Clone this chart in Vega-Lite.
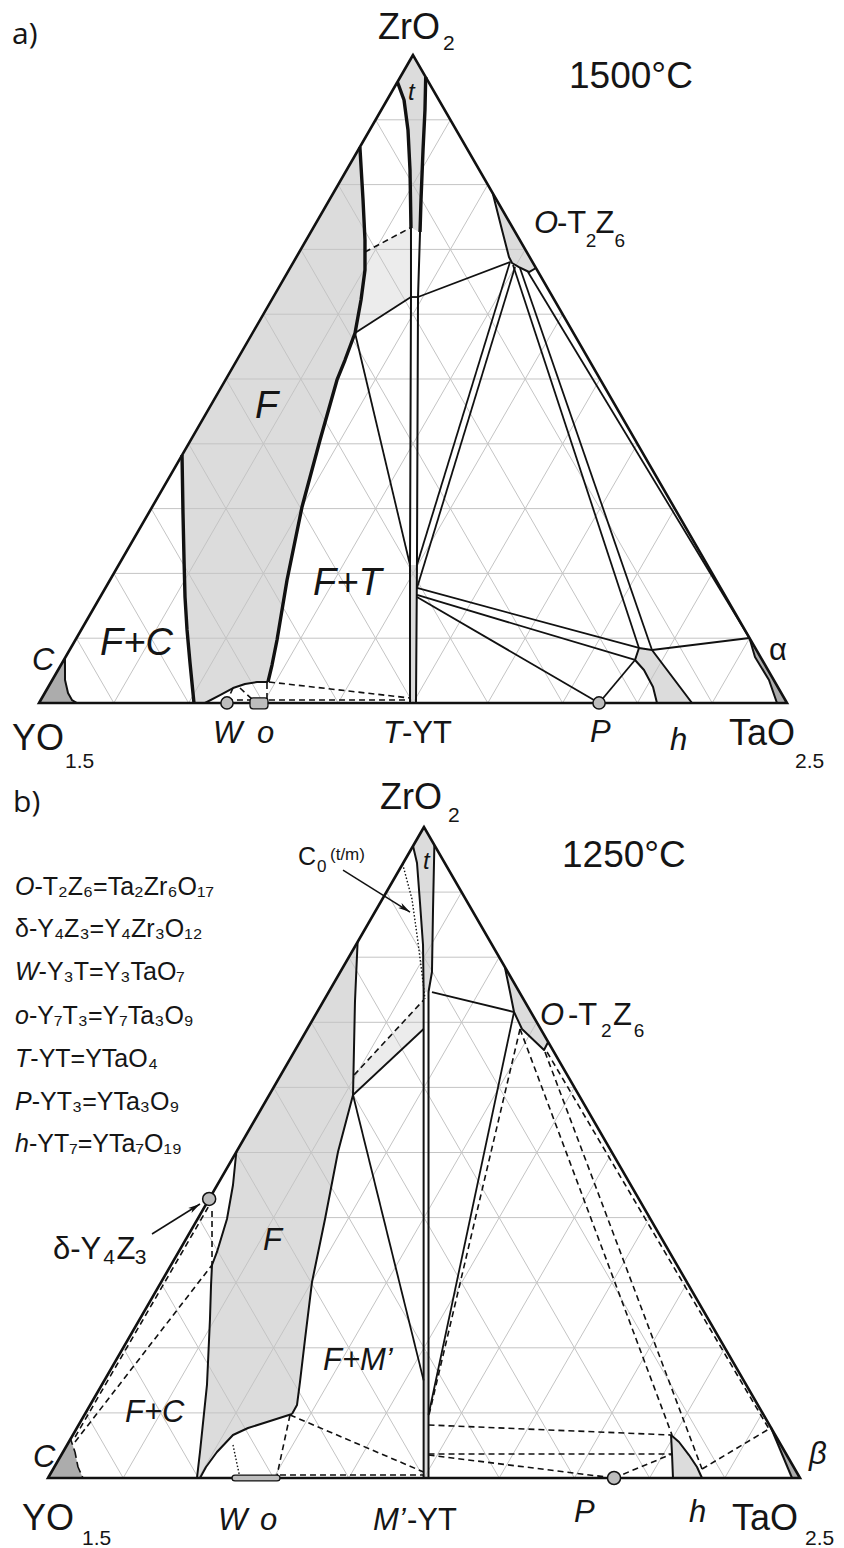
{
  "$schema": "https://vega.github.io/schema/vega-lite/v6.json",
  "padding": 0,
  "spacing": 0,
  "background": "white",
  "config": {"view": {"stroke": null}, "text": {"font": "Liberation Sans"}},
  "datasets": {
    "grid": [
      {"u":5,"z":10,"u2":95,"z2":10},{"u":10,"z":20,"u2":90,"z2":20},{"u":15,"z":30,"u2":85,"z2":30},
      {"u":20,"z":40,"u2":80,"z2":40},{"u":25,"z":50,"u2":75,"z2":50},{"u":30,"z":60,"u2":70,"z2":60},
      {"u":35,"z":70,"u2":65,"z2":70},{"u":40,"z":80,"u2":60,"z2":80},{"u":45,"z":90,"u2":55,"z2":90},
      {"u":10,"z":0,"u2":55,"z2":90},{"u":20,"z":0,"u2":60,"z2":80},{"u":30,"z":0,"u2":65,"z2":70},
      {"u":40,"z":0,"u2":70,"z2":60},{"u":50,"z":0,"u2":75,"z2":50},{"u":60,"z":0,"u2":80,"z2":40},
      {"u":70,"z":0,"u2":85,"z2":30},{"u":80,"z":0,"u2":90,"z2":20},{"u":90,"z":0,"u2":95,"z2":10},
      {"u":10,"z":0,"u2":5,"z2":10},{"u":20,"z":0,"u2":10,"z2":20},{"u":30,"z":0,"u2":15,"z2":30},
      {"u":40,"z":0,"u2":20,"z2":40},{"u":50,"z":0,"u2":25,"z2":50},{"u":60,"z":0,"u2":30,"z2":60},
      {"u":70,"z":0,"u2":35,"z2":70},{"u":80,"z":0,"u2":40,"z2":80},{"u":90,"z":0,"u2":45,"z2":90}
    ],
    "outline": [
      {"u":0,"z":0},{"u":50,"z":100},{"u":100,"z":0},{"u":0,"z":0},{"u":50,"z":100}
    ],
    "regions": [
      {"panel":"a","region":"F","kind":"solid solution","u":42.90,"z":85.80},
      {"panel":"a","region":"F","kind":"solid solution","u":43.32,"z":77.62},
      {"panel":"a","region":"F","kind":"solid solution","u":43.58,"z":71.45},
      {"panel":"a","region":"F","kind":"solid solution","u":43.58,"z":66.82},
      {"panel":"a","region":"F","kind":"solid solution","u":43.05,"z":62.19},
      {"panel":"a","region":"F","kind":"solid solution","u":42.25,"z":57.10},
      {"panel":"a","region":"F","kind":"solid solution","u":40.91,"z":52.93},
      {"panel":"a","region":"F","kind":"solid solution","u":39.84,"z":49.85},
      {"panel":"a","region":"F","kind":"solid solution","u":37.57,"z":40.59},
      {"panel":"a","region":"F","kind":"solid solution","u":35.16,"z":30.25},
      {"panel":"a","region":"F","kind":"solid solution","u":33.16,"z":18.98},
      {"panel":"a","region":"F","kind":"solid solution","u":31.82,"z":9.72},
      {"panel":"a","region":"F","kind":"solid solution","u":31.15,"z":5.86},
      {"panel":"a","region":"F","kind":"solid solution","u":30.61,"z":3.24},
      {"panel":"a","region":"F","kind":"solid solution","u":29.14,"z":3.24},
      {"panel":"a","region":"F","kind":"solid solution","u":27.54,"z":2.93},
      {"panel":"a","region":"F","kind":"solid solution","u":25.94,"z":2.31},
      {"panel":"a","region":"F","kind":"solid solution","u":24.20,"z":1.23},
      {"panel":"a","region":"F","kind":"solid solution","u":22.19,"z":0},
      {"panel":"a","region":"F","kind":"solid solution","u":20.72,"z":0},
      {"panel":"a","region":"F","kind":"solid solution","u":20.19,"z":6.17},
      {"panel":"a","region":"F","kind":"solid solution","u":19.79,"z":11.27},
      {"panel":"a","region":"F","kind":"solid solution","u":19.52,"z":16.36},
      {"panel":"a","region":"F","kind":"solid solution","u":19.39,"z":22.07},
      {"panel":"a","region":"F","kind":"solid solution","u":19.25,"z":29.32},
      {"panel":"a","region":"F","kind":"solid solution","u":19.12,"z":38.27},
      {"panel":"a","region":"t","kind":"solid solution","u":50,"z":100},
      {"panel":"a","region":"t","kind":"solid solution","u":51.70,"z":96.60},
      {"panel":"a","region":"t","kind":"solid solution","u":51.60,"z":91.51},
      {"panel":"a","region":"t","kind":"solid solution","u":51.34,"z":85.34},
      {"panel":"a","region":"t","kind":"solid solution","u":51.07,"z":77.62},
      {"panel":"a","region":"t","kind":"solid solution","u":50.94,"z":72.69},
      {"panel":"a","region":"t","kind":"solid solution","u":49.73,"z":73.30},
      {"panel":"a","region":"t","kind":"solid solution","u":49.60,"z":82.25},
      {"panel":"a","region":"t","kind":"solid solution","u":49.33,"z":88.43},
      {"panel":"a","region":"t","kind":"solid solution","u":48.80,"z":93.06},
      {"panel":"a","region":"t","kind":"solid solution","u":47.92,"z":95.83},
      {"panel":"a","region":"O","kind":"solid solution","u":60.65,"z":78.70},
      {"panel":"a","region":"O","kind":"solid solution","u":61.90,"z":72.99},
      {"panel":"a","region":"O","kind":"solid solution","u":62.83,"z":68.83},
      {"panel":"a","region":"O","kind":"solid solution","u":63.24,"z":67.90},
      {"panel":"a","region":"O","kind":"solid solution","u":64.17,"z":67.28},
      {"panel":"a","region":"O","kind":"solid solution","u":65.51,"z":66.51},
      {"panel":"a","region":"O","kind":"solid solution","u":66.44,"z":67.13},
      {"panel":"a","region":"T","kind":"solid solution","u":49.60,"z":0},
      {"panel":"a","region":"T","kind":"solid solution","u":49.60,"z":21.30},
      {"panel":"a","region":"T","kind":"solid solution","u":50.53,"z":21.30},
      {"panel":"a","region":"T","kind":"solid solution","u":50.40,"z":0},
      {"panel":"a","region":"h","kind":"solid solution","u":80.21,"z":8.49},
      {"panel":"a","region":"h","kind":"solid solution","u":81.95,"z":8.18},
      {"panel":"a","region":"h","kind":"solid solution","u":87.30,"z":0},
      {"panel":"a","region":"h","kind":"solid solution","u":82.62,"z":0},
      {"panel":"a","region":"h","kind":"solid solution","u":82.09,"z":2.47},
      {"panel":"a","region":"h","kind":"solid solution","u":80.88,"z":5.09},
      {"panel":"a","region":"h","kind":"solid solution","u":79.68,"z":6.64},
      {"panel":"a","region":"C","kind":"terminal","u":0,"z":0},
      {"panel":"a","region":"C","kind":"terminal","u":3.47,"z":6.94},
      {"panel":"a","region":"C","kind":"terminal","u":3.48,"z":3.55},
      {"panel":"a","region":"C","kind":"terminal","u":3.88,"z":1.54},
      {"panel":"a","region":"C","kind":"terminal","u":4.41,"z":0.46},
      {"panel":"a","region":"C","kind":"terminal","u":5.08,"z":0},
      {"panel":"a","region":"alpha","kind":"terminal","u":94.98,"z":10.03},
      {"panel":"a","region":"alpha","kind":"terminal","u":95.72,"z":7.10},
      {"panel":"a","region":"alpha","kind":"terminal","u":97.59,"z":3.55},
      {"panel":"a","region":"alpha","kind":"terminal","u":98.66,"z":0},
      {"panel":"a","region":"alpha","kind":"terminal","u":100,"z":0},
      {"panel":"a","region":"F+t","kind":"two-phase","u":43.58,"z":69.60},
      {"panel":"a","region":"F+t","kind":"two-phase","u":49.60,"z":73.30},
      {"panel":"a","region":"F+t","kind":"two-phase","u":49.73,"z":62.65},
      {"panel":"a","region":"F+t","kind":"two-phase","u":42.25,"z":57.10},
      {"panel":"a","region":"F+t","kind":"two-phase","u":43.05,"z":62.19},
      {"panel":"a","region":"F+t","kind":"two-phase","u":43.58,"z":66.82},

      {"panel":"b","region":"F","kind":"solid solution","u":41.17,"z":82.33},
      {"panel":"b","region":"F","kind":"solid solution","u":40.82,"z":73.12},
      {"panel":"b","region":"F","kind":"solid solution","u":40.56,"z":58.83},
      {"panel":"b","region":"F","kind":"solid solution","u":38.56,"z":50.08},
      {"panel":"b","region":"F","kind":"solid solution","u":36.84,"z":39.78},
      {"panel":"b","region":"F","kind":"solid solution","u":35.11,"z":30.11},
      {"panel":"b","region":"F","kind":"solid solution","u":34.18,"z":21.35},
      {"panel":"b","region":"F","kind":"solid solution","u":33.51,"z":14.75},
      {"panel":"b","region":"F","kind":"solid solution","u":33.11,"z":11.21},
      {"panel":"b","region":"F","kind":"solid solution","u":32.45,"z":9.83},
      {"panel":"b","region":"F","kind":"solid solution","u":29.12,"z":8.60},
      {"panel":"b","region":"F","kind":"solid solution","u":26.60,"z":7.68},
      {"panel":"b","region":"F","kind":"solid solution","u":24.60,"z":6.61},
      {"panel":"b","region":"F","kind":"solid solution","u":22.47,"z":3.99},
      {"panel":"b","region":"F","kind":"solid solution","u":21.01,"z":1.69},
      {"panel":"b","region":"F","kind":"solid solution","u":20.21,"z":0},
      {"panel":"b","region":"F","kind":"solid solution","u":19.81,"z":0},
      {"panel":"b","region":"F","kind":"solid solution","u":20.21,"z":3.99},
      {"panel":"b","region":"F","kind":"solid solution","u":21.14,"z":14.29},
      {"panel":"b","region":"F","kind":"solid solution","u":21.54,"z":24.42},
      {"panel":"b","region":"F","kind":"solid solution","u":21.68,"z":29.65},
      {"panel":"b","region":"F","kind":"solid solution","u":21.81,"z":32.72},
      {"panel":"b","region":"F","kind":"solid solution","u":22.47,"z":34.72},
      {"panel":"b","region":"F","kind":"solid solution","u":23.80,"z":39.78},
      {"panel":"b","region":"F","kind":"solid solution","u":24.60,"z":45.01},
      {"panel":"b","region":"F","kind":"solid solution","u":25.04,"z":50.08},
      {"panel":"b","region":"t","kind":"solid solution","u":50,"z":100},
      {"panel":"b","region":"t","kind":"solid solution","u":51.38,"z":97.24},
      {"panel":"b","region":"t","kind":"solid solution","u":51.20,"z":87.40},
      {"panel":"b","region":"t","kind":"solid solution","u":51.06,"z":77.72},
      {"panel":"b","region":"t","kind":"solid solution","u":50.60,"z":74.65},
      {"panel":"b","region":"t","kind":"solid solution","u":49.95,"z":74.65},
      {"panel":"b","region":"t","kind":"solid solution","u":49.87,"z":81.87},
      {"panel":"b","region":"t","kind":"solid solution","u":49.47,"z":88.33},
      {"panel":"b","region":"t","kind":"solid solution","u":49.07,"z":94.47},
      {"panel":"b","region":"t","kind":"solid solution","u":48.54,"z":97.08},
      {"panel":"b","region":"O","kind":"solid solution","u":60.75,"z":78.49},
      {"panel":"b","region":"O","kind":"solid solution","u":61.44,"z":74.65},
      {"panel":"b","region":"O","kind":"solid solution","u":61.97,"z":71.58},
      {"panel":"b","region":"O","kind":"solid solution","u":63.03,"z":68.97},
      {"panel":"b","region":"O","kind":"solid solution","u":65.96,"z":65.75},
      {"panel":"b","region":"O","kind":"solid solution","u":66.51,"z":66.97},
      {"panel":"b","region":"M","kind":"solid solution","u":49.95,"z":0},
      {"panel":"b","region":"M","kind":"solid solution","u":49.95,"z":19.35},
      {"panel":"b","region":"M","kind":"solid solution","u":50.60,"z":19.35},
      {"panel":"b","region":"M","kind":"solid solution","u":50.60,"z":0},
      {"panel":"b","region":"h","kind":"solid solution","u":82.85,"z":6.61},
      {"panel":"b","region":"h","kind":"solid solution","u":83.91,"z":5.53},
      {"panel":"b","region":"h","kind":"solid solution","u":85.24,"z":3.53},
      {"panel":"b","region":"h","kind":"solid solution","u":86.30,"z":1.69},
      {"panel":"b","region":"h","kind":"solid solution","u":86.97,"z":0},
      {"panel":"b","region":"h","kind":"solid solution","u":83.11,"z":0},
      {"panel":"b","region":"h","kind":"solid solution","u":82.98,"z":3.69},
      {"panel":"b","region":"C","kind":"terminal","u":0,"z":0},
      {"panel":"b","region":"C","kind":"terminal","u":3.0,"z":5.99},
      {"panel":"b","region":"C","kind":"terminal","u":3.59,"z":3.99},
      {"panel":"b","region":"C","kind":"terminal","u":3.99,"z":1.69},
      {"panel":"b","region":"C","kind":"terminal","u":4.65,"z":0},
      {"panel":"b","region":"beta","kind":"terminal","u":96.16,"z":7.68},
      {"panel":"b","region":"beta","kind":"terminal","u":98.94,"z":0},
      {"panel":"b","region":"beta","kind":"terminal","u":100,"z":0},
      {"panel":"b","region":"F+t","kind":"two-phase","u":40.56,"z":58.83},
      {"panel":"b","region":"F+t","kind":"two-phase","u":40.70,"z":61.90},
      {"panel":"b","region":"F+t","kind":"two-phase","u":49.95,"z":73.43},
      {"panel":"b","region":"F+t","kind":"two-phase","u":49.95,"z":68.97}
    ],
    "heavy": [
      {"panel":"a","id":"Fr","u":42.90,"z":85.80},{"panel":"a","id":"Fr","u":43.32,"z":77.62},
      {"panel":"a","id":"Fr","u":43.58,"z":71.45},{"panel":"a","id":"Fr","u":43.58,"z":66.82},
      {"panel":"a","id":"Fr","u":43.05,"z":62.19},{"panel":"a","id":"Fr","u":42.25,"z":57.10},
      {"panel":"a","id":"Fr","u":40.91,"z":52.93},{"panel":"a","id":"Fr","u":39.84,"z":49.85},
      {"panel":"a","id":"Fr","u":37.57,"z":40.59},{"panel":"a","id":"Fr","u":35.16,"z":30.25},
      {"panel":"a","id":"Fr","u":33.16,"z":18.98},{"panel":"a","id":"Fr","u":31.82,"z":9.72},
      {"panel":"a","id":"Fr","u":31.15,"z":5.86},{"panel":"a","id":"Fr","u":30.61,"z":3.24},
      {"panel":"a","id":"Fl","u":20.72,"z":0},{"panel":"a","id":"Fl","u":20.19,"z":6.17},
      {"panel":"a","id":"Fl","u":19.79,"z":11.27},{"panel":"a","id":"Fl","u":19.52,"z":16.36},
      {"panel":"a","id":"Fl","u":19.39,"z":22.07},{"panel":"a","id":"Fl","u":19.25,"z":29.32},
      {"panel":"a","id":"Fl","u":19.12,"z":38.27},
      {"panel":"a","id":"tl","u":47.92,"z":95.83},{"panel":"a","id":"tl","u":48.80,"z":93.06},
      {"panel":"a","id":"tl","u":49.33,"z":88.43},{"panel":"a","id":"tl","u":49.60,"z":82.25},
      {"panel":"a","id":"tl","u":49.73,"z":73.30},
      {"panel":"a","id":"tr","u":51.70,"z":96.60},{"panel":"a","id":"tr","u":51.60,"z":91.51},
      {"panel":"a","id":"tr","u":51.34,"z":85.34},{"panel":"a","id":"tr","u":51.07,"z":77.62},
      {"panel":"a","id":"tr","u":50.94,"z":72.69}
    ],
    "bounds": [
      {"panel":"a","id":"dome","u":30.61,"z":3.24},{"panel":"a","id":"dome","u":29.14,"z":3.24},
      {"panel":"a","id":"dome","u":27.54,"z":2.93},{"panel":"a","id":"dome","u":25.94,"z":2.31},
      {"panel":"a","id":"dome","u":24.20,"z":1.23},{"panel":"a","id":"dome","u":22.19,"z":0},
      {"panel":"a","id":"Cb","u":3.47,"z":6.94},{"panel":"a","id":"Cb","u":3.48,"z":3.55},
      {"panel":"a","id":"Cb","u":3.88,"z":1.54},{"panel":"a","id":"Cb","u":4.41,"z":0.46},
      {"panel":"a","id":"Cb","u":5.08,"z":0},
      {"panel":"a","id":"Ob","u":60.65,"z":78.70},{"panel":"a","id":"Ob","u":61.90,"z":72.99},
      {"panel":"a","id":"Ob","u":62.83,"z":68.83},{"panel":"a","id":"Ob","u":63.24,"z":67.90},
      {"panel":"a","id":"Ob","u":64.17,"z":67.28},{"panel":"a","id":"Ob","u":65.51,"z":66.51},
      {"panel":"a","id":"Ob","u":66.44,"z":67.13},
      {"panel":"a","id":"TL","u":49.73,"z":73.30},{"panel":"a","id":"TL","u":49.73,"z":62.65},
      {"panel":"a","id":"TL","u":49.60,"z":21.30},{"panel":"a","id":"TL","u":49.60,"z":0},
      {"panel":"a","id":"TR","u":50.94,"z":72.69},{"panel":"a","id":"TR","u":50.67,"z":62.65},
      {"panel":"a","id":"TR","u":50.53,"z":21.30},{"panel":"a","id":"TR","u":50.40,"z":0},
      {"panel":"a","id":"hb","u":79.68,"z":6.64},{"panel":"a","id":"hb","u":80.21,"z":8.49},
      {"panel":"a","id":"hb","u":81.95,"z":8.18},{"panel":"a","id":"hb","u":87.30,"z":0},
      {"panel":"a","id":"hl","u":82.62,"z":0},{"panel":"a","id":"hl","u":82.09,"z":2.47},
      {"panel":"a","id":"hl","u":80.88,"z":5.09},{"panel":"a","id":"hl","u":79.68,"z":6.64},
      {"panel":"a","id":"ab","u":94.98,"z":10.03},{"panel":"a","id":"ab","u":95.72,"z":7.10},
      {"panel":"a","id":"ab","u":97.59,"z":3.55},{"panel":"a","id":"ab","u":98.66,"z":0},

      {"panel":"b","id":"Fr","u":41.17,"z":82.33},{"panel":"b","id":"Fr","u":40.82,"z":73.12},
      {"panel":"b","id":"Fr","u":40.56,"z":58.83},{"panel":"b","id":"Fr","u":38.56,"z":50.08},
      {"panel":"b","id":"Fr","u":36.84,"z":39.78},{"panel":"b","id":"Fr","u":35.11,"z":30.11},
      {"panel":"b","id":"Fr","u":34.18,"z":21.35},{"panel":"b","id":"Fr","u":33.51,"z":14.75},
      {"panel":"b","id":"Fr","u":33.11,"z":11.21},{"panel":"b","id":"Fr","u":32.45,"z":9.83},
      {"panel":"b","id":"Fb","u":32.45,"z":9.83},{"panel":"b","id":"Fb","u":29.12,"z":8.60},
      {"panel":"b","id":"Fb","u":26.60,"z":7.68},{"panel":"b","id":"Fb","u":24.60,"z":6.61},
      {"panel":"b","id":"Fb","u":22.47,"z":3.99},{"panel":"b","id":"Fb","u":21.01,"z":1.69},
      {"panel":"b","id":"Fb","u":20.21,"z":0},
      {"panel":"b","id":"Fl","u":19.81,"z":0},{"panel":"b","id":"Fl","u":20.21,"z":3.99},
      {"panel":"b","id":"Fl","u":21.14,"z":14.29},{"panel":"b","id":"Fl","u":21.54,"z":24.42},
      {"panel":"b","id":"Fl","u":21.68,"z":29.65},{"panel":"b","id":"Fl","u":21.81,"z":32.72},
      {"panel":"b","id":"Fl","u":22.47,"z":34.72},{"panel":"b","id":"Fl","u":23.80,"z":39.78},
      {"panel":"b","id":"Fl","u":24.60,"z":45.01},{"panel":"b","id":"Fl","u":25.04,"z":50.08},
      {"panel":"b","id":"tl","u":48.54,"z":97.08},{"panel":"b","id":"tl","u":49.07,"z":94.47},
      {"panel":"b","id":"tl","u":49.47,"z":88.33},{"panel":"b","id":"tl","u":49.87,"z":81.87},
      {"panel":"b","id":"tl","u":49.95,"z":74.65},
      {"panel":"b","id":"tr","u":51.38,"z":97.24},{"panel":"b","id":"tr","u":51.20,"z":87.40},
      {"panel":"b","id":"tr","u":51.06,"z":77.72},{"panel":"b","id":"tr","u":50.60,"z":74.65},
      {"panel":"b","id":"ML","u":49.95,"z":74.65},{"panel":"b","id":"ML","u":49.95,"z":0},
      {"panel":"b","id":"MR","u":50.60,"z":74.65},{"panel":"b","id":"MR","u":50.60,"z":0},
      {"panel":"b","id":"Ob","u":60.75,"z":78.49},{"panel":"b","id":"Ob","u":61.44,"z":74.65},
      {"panel":"b","id":"Ob","u":61.97,"z":71.58},{"panel":"b","id":"Ob","u":63.03,"z":68.97},
      {"panel":"b","id":"Ob","u":65.96,"z":65.75},{"panel":"b","id":"Ob","u":66.51,"z":66.97},
      {"panel":"b","id":"hb","u":82.85,"z":6.61},{"panel":"b","id":"hb","u":83.91,"z":5.53},
      {"panel":"b","id":"hb","u":85.24,"z":3.53},{"panel":"b","id":"hb","u":86.30,"z":1.69},
      {"panel":"b","id":"hb","u":86.97,"z":0},
      {"panel":"b","id":"hl","u":83.11,"z":0},{"panel":"b","id":"hl","u":82.98,"z":3.69},
      {"panel":"b","id":"hl","u":82.85,"z":6.61},
      {"panel":"b","id":"bb","u":96.16,"z":7.68},{"panel":"b","id":"bb","u":98.94,"z":0}
    ],
    "ties": [
      {"panel":"a","u":42.25,"z":57.10,"u2":49.73,"z2":62.65},
      {"panel":"a","u":49.73,"z":62.65,"u2":50.67,"z2":62.65},
      {"panel":"a","u":50.67,"z":62.65,"u2":62.97,"z2":68.06},
      {"panel":"a","u":42.25,"z":57.10,"u2":49.60,"z2":21.30},
      {"panel":"a","u":62.97,"z":68.06,"u2":50.53,"z2":21.30},
      {"panel":"a","u":63.64,"z":67.28,"u2":50.53,"z2":17.75},
      {"panel":"a","u":50.53,"z":17.75,"u2":80.21,"z2":8.49},
      {"panel":"a","u":50.53,"z":16.67,"u2":79.68,"z2":6.64},
      {"panel":"a","u":50.53,"z":16.36,"u2":74.87,"z2":0},
      {"panel":"a","u":63.37,"z":67.59,"u2":80.21,"z2":8.49},
      {"panel":"a","u":64.30,"z":67.13,"u2":81.95,"z2":8.18},
      {"panel":"a","u":65.37,"z":66.51,"u2":94.98,"z2":10.03},
      {"panel":"a","u":81.95,"z":8.18,"u2":94.98,"z2":10.03},
      {"panel":"a","u":74.87,"z":0,"u2":79.68,"z2":6.64},
      {"panel":"b","u":40.56,"z":58.83,"u2":49.95,"z2":15.0},
      {"panel":"b","u":51.06,"z":74.65,"u2":61.97,"z2":71.58},
      {"panel":"b","u":61.97,"z":71.58,"u2":50.60,"z2":9.68},
      {"panel":"b","u":40.56,"z":58.83,"u2":49.95,"z2":68.97}
    ],
    "dashed": [
      {"panel":"a","u":30.75,"z":3.24,"u2":49.60,"z2":0.77},
      {"panel":"a","u":30.75,"z":0.46,"u2":49.60,"z2":0.46},
      {"panel":"a","u":25.94,"z":2.31,"u2":25.13,"z2":0.3},
      {"panel":"a","u":26.87,"z":2.31,"u2":28.61,"z2":0.46},
      {"panel":"a","u":30.48,"z":3.09,"u2":30.48,"z2":0.6},
      {"panel":"a","u":25.13,"z":0.46,"u2":28.21,"z2":0.46},
      {"panel":"a","u":43.58,"z":69.60,"u2":49.60,"z2":73.30},
      {"panel":"b","u":40.70,"z":61.90,"u2":49.95,"z2":73.43},
      {"panel":"b","u":62.77,"z":68.97,"u2":50.60,"z2":9.37},
      {"panel":"b","u":62.77,"z":68.97,"u2":82.98,"z2":6.61},
      {"panel":"b","u":66.09,"z":65.44,"u2":86.97,"z2":1.38},
      {"panel":"b","u":66.36,"z":65.44,"u2":95.88,"z2":7.53},
      {"panel":"b","u":86.97,"z":1.38,"u2":95.88,"z2":7.53},
      {"panel":"b","u":50.60,"z":8.14,"u2":82.85,"z2":6.61},
      {"panel":"b","u":50.60,"z":3.69,"u2":82.98,"z2":3.69},
      {"panel":"b","u":50.60,"z":3.53,"u2":75.27,"z2":0},
      {"panel":"b","u":75.27,"z":0,"u2":82.98,"z2":3.69},
      {"panel":"b","u":3.6,"z":6.3,"u2":21.3,"z2":41.6},
      {"panel":"b","u":3.59,"z":5.53,"u2":21.81,"z2":32.72},
      {"panel":"b","u":21.81,"z":41.0,"u2":21.81,"z2":32.72},
      {"panel":"b","u":32.18,"z":9.68,"u2":30.45,"z2":0.4},
      {"panel":"b","u":32.18,"z":9.68,"u2":49.95,"z2":0.92},
      {"panel":"b","u":30.85,"z":0.46,"u2":49.95,"z2":0.46},
      {"panel":"b","u":3.0,"z":5.99,"u2":3.59,"z2":3.99},
      {"panel":"b","u":3.59,"z":3.99,"u2":3.99,"z2":1.69},
      {"panel":"b","u":3.99,"z":1.69,"u2":4.65,"z2":0}
    ],
    "dotted": [
      {"panel":"b","id":"c0","u":47.16,"z":94.32},{"panel":"b","id":"c0","u":48.40,"z":88.94},
      {"panel":"b","id":"c0","u":49.20,"z":82.33},{"panel":"b","id":"c0","u":49.87,"z":76.19},
      {"panel":"b","id":"c0","u":50.13,"z":73.58},
      {"panel":"b","id":"w","u":24.60,"z":5.07},{"panel":"b","id":"w","u":25.53,"z":0}
    ],
    "compounds": [
      {"panel":"a","name":"W","u":25.13,"z":0},
      {"panel":"a","name":"P","u":74.87,"z":0},
      {"panel":"b","name":"δ","u":21.43,"z":42.86},
      {"panel":"b","name":"P","u":75.27,"z":0}
    ],
    "ranges": [
      {"panel":"a","name":"o","u":28.21,"z":-0.9,"u2":30.61,"z2":0.8},
      {"panel":"b","name":"W-o","u":24.47,"z":-0.45,"u2":30.85,"z2":0.45}
    ],
    "arrows": [
      {"panel":"b","name":"C0","u":39.23,"z":93.39,"u2":48.14,"z2":86.94},
      {"panel":"b","name":"δ","u":13.83,"z":37.48,"u2":20.21,"z2":42.09}
    ],
    "labels": [
      {"panel":"a","kind":"panel","u":-3.61,"z":101.7,"t":"a)"},
      {"panel":"a","kind":"oxide","u":45.32,"z":102.47,"t":"ZrO"},
      {"panel":"a","kind":"oxsub","u":54.01,"z":100.77,"t":"2"},
      {"panel":"a","kind":"temp","u":70.86,"z":94.91,"t":"1500°C"},
      {"panel":"a","kind":"phaseM","u":66.18,"z":72.53,"t":"O"},
      {"panel":"a","kind":"formula","u":69.25,"z":72.53,"t":"-T"},
      {"panel":"a","kind":"formsub","u":73.10,"z":70.37,"t":"2"},
      {"panel":"a","kind":"formula","u":74.40,"z":72.53,"t":"Z"},
      {"panel":"a","kind":"formsub","u":76.95,"z":70.37,"t":"6"},
      {"panel":"a","kind":"phaseT","u":49.33,"z":93.06,"t":"t"},
      {"panel":"a","kind":"phaseL","u":28.88,"z":43.98,"t":"F"},
      {"panel":"a","kind":"phaseL","u":36.63,"z":16.67,"t":"F+T"},
      {"panel":"a","kind":"phaseL","u":8.16,"z":7.41,"t":"F+C"},
      {"panel":"a","kind":"phaseM","u":-0.94,"z":5.09,"t":"C"},
      {"panel":"a","kind":"oxide","u":-3.61,"z":-7.25,"t":"YO"},
      {"panel":"a","kind":"oxsub","u":3.48,"z":-10.03,"t":"1.5"},
      {"panel":"a","kind":"phaseM","u":23.26,"z":-6.17,"t":"W"},
      {"panel":"a","kind":"phaseM","u":29.14,"z":-6.17,"t":"o"},
      {"panel":"a","kind":"phaseM","u":45.99,"z":-6.17,"t":"T"},
      {"panel":"a","kind":"formula","u":48.53,"z":-6.17,"t":"-YT"},
      {"panel":"a","kind":"phaseM","u":73.66,"z":-6.02,"t":"P"},
      {"panel":"a","kind":"phaseM","u":84.36,"z":-7.25,"t":"h"},
      {"panel":"a","kind":"oxide","u":92.25,"z":-6.48,"t":"TaO"},
      {"panel":"a","kind":"oxsub","u":101.07,"z":-10.03,"t":"2.5"},
      {"panel":"a","kind":"formula","u":97.59,"z":6.64,"t":"α"},

      {"panel":"b","kind":"panel","u":-4.65,"z":102.30,"t":"b)"},
      {"panel":"b","kind":"oxide","u":44.15,"z":102.76,"t":"ZrO"},
      {"panel":"b","kind":"oxsub","u":53.2,"z":100.77,"t":"2"},
      {"panel":"b","kind":"temp","u":68.35,"z":93.86,"t":"1250°C"},
      {"panel":"b","kind":"phaseM","u":65.43,"z":69.59,"t":"O"},
      {"panel":"b","kind":"formula","u":69.15,"z":69.59,"t":"-T"},
      {"panel":"b","kind":"formsub","u":73.55,"z":67.74,"t":"2"},
      {"panel":"b","kind":"formula","u":75.13,"z":69.59,"t":"Z"},
      {"panel":"b","kind":"formsub","u":77.90,"z":67.74,"t":"6"},
      {"panel":"b","kind":"phaseT","u":49.87,"z":93.55,"t":"t"},
      {"panel":"b","kind":"note","u":33.24,"z":94.16,"t":"C"},
      {"panel":"b","kind":"notesub","u":35.77,"z":93.09,"t":"0"},
      {"panel":"b","kind":"notesub","u":37.50,"z":94.93,"t":"(t/m)"},
      {"panel":"b","kind":"legendit","u":-4.39,"z":89.55,"t":"O"},
      {"panel":"b","kind":"legend","u":-1.80,"z":89.55,"t":"-T₂Z₆=Ta₂Zr₆O₁₇"},
      {"panel":"b","kind":"legend","u":-4.39,"z":83.10,"t":"δ-Y₄Z₃=Y₄Zr₃O₁₂"},
      {"panel":"b","kind":"legendit","u":-4.39,"z":76.50,"t":"W"},
      {"panel":"b","kind":"legend","u":-1.25,"z":76.50,"t":"-Y₃T=Y₃TaO₇"},
      {"panel":"b","kind":"legendit","u":-4.39,"z":69.74,"t":"o"},
      {"panel":"b","kind":"legend","u":-2.54,"z":69.74,"t":"-Y₇T₃=Y₇Ta₃O₉"},
      {"panel":"b","kind":"legendit","u":-4.39,"z":63.13,"t":"T"},
      {"panel":"b","kind":"legend","u":-2.35,"z":63.13,"t":"-YT=YTaO₄"},
      {"panel":"b","kind":"legendit","u":-4.39,"z":56.53,"t":"P"},
      {"panel":"b","kind":"legend","u":-2.17,"z":56.53,"t":"-YT₃=YTa₃O₉"},
      {"panel":"b","kind":"legendit","u":-4.39,"z":50.08,"t":"h"},
      {"panel":"b","kind":"legend","u":-2.54,"z":50.08,"t":"-YT₇=YTa₇O₁₉"},
      {"panel":"b","kind":"formula","u":0.66,"z":33.64,"t":"δ-Y"},
      {"panel":"b","kind":"oxsub","u":7.35,"z":32.87,"t":"4"},
      {"panel":"b","kind":"formula","u":9.10,"z":33.64,"t":"Z"},
      {"panel":"b","kind":"oxsub","u":11.55,"z":32.87,"t":"3"},
      {"panel":"b","kind":"phaseM","u":28.59,"z":35.02,"t":"F"},
      {"panel":"b","kind":"phaseM","u":36.57,"z":16.59,"t":"F+M’"},
      {"panel":"b","kind":"phaseM","u":10.24,"z":8.60,"t":"F+C"},
      {"panel":"b","kind":"phaseM","u":-2.00,"z":1.69,"t":"C"},
      {"panel":"b","kind":"oxide","u":-3.46,"z":-7.99,"t":"YO"},
      {"panel":"b","kind":"oxsub","u":4.52,"z":-10.29,"t":"1.5"},
      {"panel":"b","kind":"phaseM","u":22.61,"z":-7.99,"t":"W"},
      {"panel":"b","kind":"phaseM","u":28.19,"z":-7.99,"t":"o"},
      {"panel":"b","kind":"phaseM","u":43.22,"z":-7.99,"t":"M’"},
      {"panel":"b","kind":"formula","u":47.74,"z":-7.99,"t":"-YT"},
      {"panel":"b","kind":"phaseM","u":69.95,"z":-6.76,"t":"P"},
      {"panel":"b","kind":"phaseM","u":85.24,"z":-6.76,"t":"h"},
      {"panel":"b","kind":"oxide","u":90.96,"z":-7.99,"t":"TaO"},
      {"panel":"b","kind":"oxsub","u":100.66,"z":-10.29,"t":"2.5"},
      {"panel":"b","kind":"phaseM","u":101.20,"z":2.15,"t":"β"}
    ]
  },
  "vconcat": [
    {
      "width": 844,
      "height": 770,
      "encoding": {
        "x": {"field": "u", "type": "quantitative", "axis": null, "scale": {"domain": [-5.214, 107.62], "nice": false, "zero": false}},
        "y": {"field": "z", "type": "quantitative", "axis": null, "scale": {"domain": [-10.34, 108.488], "nice": false, "zero": false}}
      },
      "layer": [
        {
          "data": {"name": "regions"},
          "transform": [{"filter": "datum.panel === 'a'"}],
          "mark": {"type": "line", "strokeOpacity": 0, "strokeWidth": 0},
          "encoding": {
            "detail": {"field": "region"},
            "order": {"value": null},
            "fill": {"field": "kind", "type": "nominal", "legend": null,
              "scale": {"domain": ["solid solution", "terminal", "two-phase"], "range": ["#dcdcdc", "#acacac", "#ececec"]}}
          }
        },
        {
          "data": {"name": "grid"},
          "mark": {"type": "rule", "color": "#c4c4c4", "strokeWidth": 1},
          "encoding": {"x2": {"field": "u2"}, "y2": {"field": "z2"}}
        },
        {
          "data": {"name": "bounds"},
          "transform": [{"filter": "datum.panel === 'a'"}],
          "mark": {"type": "line", "color": "#111", "strokeWidth": 2, "strokeJoin": "round"},
          "encoding": {"detail": {"field": "id"}, "order": {"value": null}}
        },
        {
          "data": {"name": "heavy"},
          "transform": [{"filter": "datum.panel === 'a'"}],
          "mark": {"type": "line", "color": "#111", "strokeWidth": 3.4, "strokeJoin": "round"},
          "encoding": {"detail": {"field": "id"}, "order": {"value": null}}
        },
        {
          "data": {"name": "ties"},
          "transform": [{"filter": "datum.panel === 'a'"}],
          "mark": {"type": "rule", "color": "#111", "strokeWidth": 1.8},
          "encoding": {"x2": {"field": "u2"}, "y2": {"field": "z2"}}
        },
        {
          "data": {"name": "dashed"},
          "transform": [{"filter": "datum.panel === 'a'"}],
          "mark": {"type": "rule", "color": "#111", "strokeWidth": 1.6, "strokeDash": [6, 4]},
          "encoding": {"x2": {"field": "u2"}, "y2": {"field": "z2"}}
        },
        {
          "data": {"name": "outline"},
          "mark": {"type": "line", "color": "#111", "strokeWidth": 2.6, "strokeJoin": "miter"},
          "encoding": {"order": {"value": null}}
        },
        {
          "data": {"name": "ranges"},
          "transform": [{"filter": "datum.panel === 'a'"}],
          "mark": {"type": "rect", "fill": "#bdbdbd", "stroke": "#111", "strokeWidth": 1.3, "cornerRadius": 3},
          "encoding": {"x2": {"field": "u2"}, "y2": {"field": "z2"}}
        },
        {
          "data": {"name": "compounds"},
          "transform": [{"filter": "datum.panel === 'a'"}],
          "mark": {"type": "point", "shape": "circle", "filled": true, "fill": "#bdbdbd", "stroke": "#111", "strokeWidth": 1.5, "size": 150, "opacity": 1}
        },
        {
          "data": {"name": "labels"},
          "transform": [{"filter": "datum.panel === 'a'"}, {"filter": {"field": "kind", "oneOf": ["oxide", "oxsub", "temp", "formula", "formsub", "note", "notesub", "legend"]}}],
          "mark": {"type": "text", "align": "left", "baseline": "alphabetic", "font": "Liberation Sans", "color": "#151515"},
          "encoding": {
            "text": {"field": "t"},
            "size": {"field": "kind", "type": "nominal", "legend": null,
              "scale": {"type": "ordinal", "domain": ["panel", "oxide", "oxsub", "temp", "formula", "formsub", "note", "notesub", "legend", "phaseL", "phaseM", "phaseT", "legendit"], "range": [30, 36, 21, 37, 31, 19, 25, 17, 25, 38, 31, 24, 25]}}
          }
        },
        {
          "data": {"name": "labels"},
          "transform": [{"filter": "datum.panel === 'a'"}, {"filter": {"field": "kind", "oneOf": ["phaseL", "phaseM", "phaseT", "legendit"]}}],
          "mark": {"type": "text", "align": "left", "baseline": "alphabetic", "font": "Liberation Sans", "fontStyle": "italic", "color": "#151515"},
          "encoding": {
            "text": {"field": "t"},
            "size": {"field": "kind", "type": "nominal", "legend": null,
              "scale": {"type": "ordinal", "domain": ["panel", "oxide", "oxsub", "temp", "formula", "formsub", "note", "notesub", "legend", "phaseL", "phaseM", "phaseT", "legendit"], "range": [30, 36, 21, 37, 31, 19, 25, 17, 25, 38, 31, 24, 25]}}
          }
        },
        {
          "data": {"name": "labels"},
          "transform": [{"filter": "datum.panel === 'a'"}, {"filter": {"field": "kind", "equal": "panel"}}],
          "mark": {"type": "text", "align": "left", "baseline": "alphabetic", "font": "Open Sans", "fontSize": 30, "color": "#151515"},
          "encoding": {"text": {"field": "t"}}
        }
      ]
    },
    {
      "width": 844,
      "height": 778,
      "encoding": {
        "x": {"field": "u", "type": "quantitative", "axis": null, "scale": {"domain": [-6.383, 105.851], "nice": false, "zero": false}},
        "y": {"field": "z", "type": "quantitative", "axis": null, "scale": {"domain": [-11.06, 108.449], "nice": false, "zero": false}}
      },
      "layer": [
        {
          "data": {"name": "regions"},
          "transform": [{"filter": "datum.panel === 'b'"}],
          "mark": {"type": "line", "strokeOpacity": 0, "strokeWidth": 0},
          "encoding": {
            "detail": {"field": "region"},
            "order": {"value": null},
            "fill": {"field": "kind", "type": "nominal", "legend": null,
              "scale": {"domain": ["solid solution", "terminal", "two-phase"], "range": ["#dcdcdc", "#acacac", "#ececec"]}}
          }
        },
        {
          "data": {"name": "grid"},
          "mark": {"type": "rule", "color": "#c4c4c4", "strokeWidth": 1},
          "encoding": {"x2": {"field": "u2"}, "y2": {"field": "z2"}}
        },
        {
          "data": {"name": "bounds"},
          "transform": [{"filter": "datum.panel === 'b'"}],
          "mark": {"type": "line", "color": "#111", "strokeWidth": 2, "strokeJoin": "round"},
          "encoding": {"detail": {"field": "id"}, "order": {"value": null}}
        },
        {
          "data": {"name": "ties"},
          "transform": [{"filter": "datum.panel === 'b'"}],
          "mark": {"type": "rule", "color": "#111", "strokeWidth": 1.8},
          "encoding": {"x2": {"field": "u2"}, "y2": {"field": "z2"}}
        },
        {
          "data": {"name": "dashed"},
          "transform": [{"filter": "datum.panel === 'b'"}],
          "mark": {"type": "rule", "color": "#111", "strokeWidth": 1.6, "strokeDash": [6, 4]},
          "encoding": {"x2": {"field": "u2"}, "y2": {"field": "z2"}}
        },
        {
          "data": {"name": "dotted"},
          "transform": [{"filter": "datum.panel === 'b'"}],
          "mark": {"type": "line", "color": "#111", "strokeWidth": 1.4, "strokeDash": [1.5, 2]},
          "encoding": {"detail": {"field": "id"}, "order": {"value": null}}
        },
        {
          "data": {"name": "outline"},
          "mark": {"type": "line", "color": "#111", "strokeWidth": 2.6, "strokeJoin": "miter"},
          "encoding": {"order": {"value": null}}
        },
        {
          "data": {"name": "ranges"},
          "transform": [{"filter": "datum.panel === 'b'"}],
          "mark": {"type": "rect", "fill": "#bdbdbd", "stroke": "#111", "strokeWidth": 1.3, "cornerRadius": 3},
          "encoding": {"x2": {"field": "u2"}, "y2": {"field": "z2"}}
        },
        {
          "data": {"name": "compounds"},
          "transform": [{"filter": "datum.panel === 'b'"}],
          "mark": {"type": "point", "shape": "circle", "filled": true, "fill": "#bdbdbd", "stroke": "#111", "strokeWidth": 1.5, "size": 170, "opacity": 1}
        },
        {
          "data": {"name": "arrows"},
          "transform": [{"filter": "datum.panel === 'b'"}],
          "mark": {"type": "rule", "color": "#111", "strokeWidth": 1.5},
          "encoding": {"x2": {"field": "u2"}, "y2": {"field": "z2"}}
        },
        {
          "data": {"name": "arrows"},
          "transform": [{"filter": "datum.name === 'C0'"}],
          "mark": {"type": "point", "shape": "M0,0L0.6,2.4L0,1.8L-0.6,2.4Z", "filled": true, "color": "#111", "size": 100, "angle": 123, "opacity": 1},
          "encoding": {"x": {"field": "u2", "type": "quantitative"}, "y": {"field": "z2", "type": "quantitative"}}
        },
        {
          "data": {"name": "arrows"},
          "transform": [{"filter": "datum.name === 'δ'"}],
          "mark": {"type": "point", "shape": "M0,0L0.6,2.4L0,1.8L-0.6,2.4Z", "filled": true, "color": "#111", "size": 100, "angle": 57, "opacity": 1},
          "encoding": {"x": {"field": "u2", "type": "quantitative"}, "y": {"field": "z2", "type": "quantitative"}}
        },
        {
          "data": {"name": "labels"},
          "transform": [{"filter": "datum.panel === 'b'"}, {"filter": {"field": "kind", "oneOf": ["oxide", "oxsub", "temp", "formula", "formsub", "note", "notesub", "legend"]}}],
          "mark": {"type": "text", "align": "left", "baseline": "alphabetic", "font": "Liberation Sans", "color": "#151515"},
          "encoding": {
            "text": {"field": "t"},
            "size": {"field": "kind", "type": "nominal", "legend": null,
              "scale": {"type": "ordinal", "domain": ["panel", "oxide", "oxsub", "temp", "formula", "formsub", "note", "notesub", "legend", "phaseL", "phaseM", "phaseT", "legendit"], "range": [30, 36, 21, 37, 31, 19, 25, 17, 25, 38, 31, 24, 25]}}
          }
        },
        {
          "data": {"name": "labels"},
          "transform": [{"filter": "datum.panel === 'b'"}, {"filter": {"field": "kind", "oneOf": ["phaseL", "phaseM", "phaseT", "legendit"]}}],
          "mark": {"type": "text", "align": "left", "baseline": "alphabetic", "font": "Liberation Sans", "fontStyle": "italic", "color": "#151515"},
          "encoding": {
            "text": {"field": "t"},
            "size": {"field": "kind", "type": "nominal", "legend": null,
              "scale": {"type": "ordinal", "domain": ["panel", "oxide", "oxsub", "temp", "formula", "formsub", "note", "notesub", "legend", "phaseL", "phaseM", "phaseT", "legendit"], "range": [30, 36, 21, 37, 31, 19, 25, 17, 25, 38, 31, 24, 25]}}
          }
        },
        {
          "data": {"name": "labels"},
          "transform": [{"filter": "datum.panel === 'b'"}, {"filter": {"field": "kind", "equal": "panel"}}],
          "mark": {"type": "text", "align": "left", "baseline": "alphabetic", "font": "Open Sans", "fontSize": 30, "color": "#151515"},
          "encoding": {"text": {"field": "t"}}
        }
      ]
    }
  ]
}
